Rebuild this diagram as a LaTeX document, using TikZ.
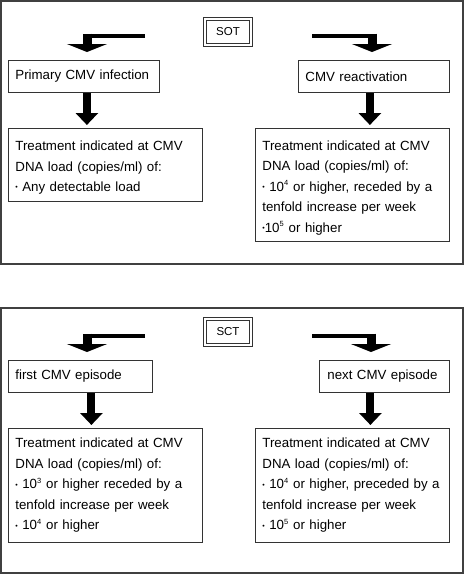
\documentclass[tikz,border=0pt]{standalone}
\usepackage{fontspec}
\setmainfont{Liberation Sans}
\usetikzlibrary{arrows.meta}
\newcommand{\bul}{\raisebox{0.25ex}{\fontsize{7}{7}\selectfont\textbullet}}
\newcommand{\pw}[1]{\textsuperscript{\fontsize{7.5}{7.5}\selectfont#1}}
\newcommand{\topgap}{\rule{0pt}{15pt}}

\begin{document}
\begin{tikzpicture}[x=1pt,y=-1pt]
\tikzstyle{panel} = [draw=black!75,line width=1.2pt]
\tikzstyle{head} = [draw=black!80,double,double distance=2pt,line width=1.1pt,minimum width=46pt,minimum height=26pt,inner sep=0pt,font=\fontsize{11.5}{13}\selectfont]
\tikzstyle{stage} = [draw=black!80,line width=0.8pt,anchor=north west,align=left,inner xsep=7pt,inner ysep=0pt,font=\fontsize{13.3}{20.5}\selectfont]
\tikzstyle{elbowbar} = [line width=4pt]
\tikzstyle{elbowarrow} = [line width=9pt,-{Triangle[width=40pt,length=8pt]}]
\tikzstyle{downarrow} = [line width=8pt,-{Triangle[width=22pt,length=12pt]}]

\useasboundingbox (0,0) rectangle (464,574);

\draw[panel] (1,1) rectangle (463,264);
\draw[panel] (1,308) rectangle (463,573);

% SOT
\node[head] (sot) at (228,32) {SOT};
\node[stage,text width=137pt,minimum height=32pt] (primary) at (8,60) {Primary CMV infection};
\node[stage,text width=137pt,minimum height=32pt] (reactiv) at (298,60) {CMV reactivation};
\node[stage,text width=180pt,minimum height=73pt] (treatA) at (8,128) {\topgap Treatment indicated at CMV\\DNA load (copies/ml) of:\\\bul{} Any detectable load};
\node[stage,text width=180pt,minimum height=113pt] (treatB) at (255,128) {\topgap Treatment indicated at CMV\\DNA load (copies/ml) of:\\\bul{} 10\pw{4} or higher, receded by a\\tenfold increase per week\\\bul10\pw{5} or higher};

\coordinate (sotL) at (145,35.5);
\coordinate (kneeA) at (87,35.5);
\coordinate (sotR) at (312,35.5);
\coordinate (kneeB) at (372,35.5);

\draw[elbowbar] (sotL) -- ([xshift=-4pt]kneeA);
\draw[elbowarrow] ([yshift=2pt]kneeA) -- ([yshift=8pt]kneeA |- primary.north);
\draw[elbowbar] (sotR) -- ([xshift=4pt]kneeB);
\draw[elbowarrow] ([yshift=2pt]kneeB) -- ([yshift=8pt]kneeB |- reactiv.north);

\draw[downarrow] ([xshift=3pt]primary.south) -- ([xshift=3pt,yshift=3pt]primary.south |- treatA.north);
\draw[downarrow] ([xshift=-4pt]reactiv.south) -- ([xshift=-4pt,yshift=3pt]reactiv.south |- treatB.north);

% SCT
\node[head] (sct) at (228,332) {SCT};
\node[stage,text width=130pt,minimum height=32pt] (first) at (8,360) {first CMV episode};
\node[stage,text width=114pt,minimum height=32pt,inner xsep=8pt] (next) at (319,360) {next CMV episode};
\node[stage,text width=180pt,minimum height=114pt] (treatC) at (8,428) {Treatment indicated at CMV\\DNA load (copies/ml) of:\\\bul{} 10\pw{3} or higher receded by a\\tenfold increase per week\\\bul{} 10\pw{4} or higher};
\node[stage,text width=180pt,minimum height=114pt] (treatD) at (255,428) {Treatment indicated at CMV\\DNA load (copies/ml) of:\\\bul{} 10\pw{4} or higher, preceded by a\\tenfold increase per week\\\bul{} 10\pw{5} or higher};

\coordinate (sctL) at (145,335.5);
\coordinate (kneeC) at (87,335.5);
\coordinate (sctR) at (312,335.5);
\coordinate (kneeD) at (371,335.5);

\draw[elbowbar] (sctL) -- ([xshift=-4pt]kneeC);
\draw[elbowarrow] ([yshift=2pt]kneeC) -- ([yshift=8pt]kneeC |- first.north);
\draw[elbowbar] (sctR) -- ([xshift=4pt]kneeD);
\draw[elbowarrow] ([yshift=2pt]kneeD) -- ([yshift=8pt]kneeD |- next.north);

\draw[downarrow] ([xshift=11pt]first.south) -- ([xshift=11pt,yshift=3pt]first.south |- treatC.north);
\draw[downarrow] ([xshift=-14pt]next.south) -- ([xshift=-14pt,yshift=3pt]next.south |- treatD.north);
\end{tikzpicture}
\end{document}
